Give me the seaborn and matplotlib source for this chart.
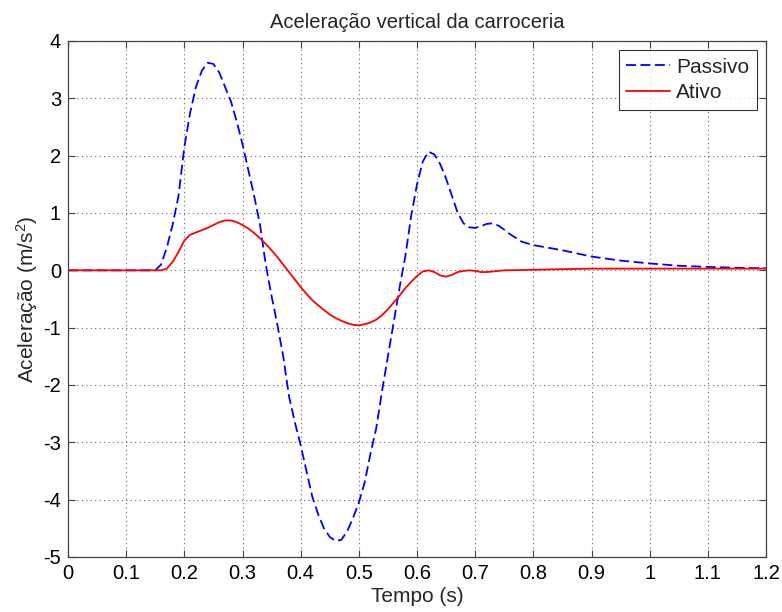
import numpy as np
import pandas as pd
import matplotlib
matplotlib.use("Agg")
import matplotlib.pyplot as plt
import seaborn as sns

# ---- data ----
t_passivo = [0.0, 0.15, 0.16, 0.17, 0.18, 0.19, 0.20, 0.21, 0.22, 0.23, 0.24, 0.25,
             0.26, 0.27, 0.28, 0.29, 0.30, 0.31, 0.32, 0.33, 0.34, 0.35, 0.36, 0.37,
             0.38, 0.39, 0.40, 0.41, 0.42, 0.43, 0.44, 0.45, 0.46, 0.47, 0.48, 0.49,
             0.50, 0.51, 0.52, 0.53, 0.54, 0.55, 0.56, 0.57, 0.58, 0.59, 0.60, 0.61,
             0.62, 0.63, 0.64, 0.65, 0.66, 0.67, 0.68, 0.69, 0.70, 0.71, 0.72, 0.73,
             0.74, 0.75, 0.76, 0.78, 0.80, 0.85, 0.90, 0.95, 1.00, 1.05, 1.10, 1.15, 1.20]
a_passivo = [0.0, 0.0, 0.1, 0.4, 0.8, 1.3, 2.15, 2.75, 3.2, 3.48, 3.62, 3.6,
             3.45, 3.2, 2.95, 2.6, 2.2, 1.75, 1.3, 0.8, 0.1, -0.45, -0.95, -1.5,
             -2.2, -2.65, -3.05, -3.5, -3.95, -4.25, -4.5, -4.65, -4.72, -4.7, -4.55, -4.32,
             -4.05, -3.7, -3.2, -2.75, -2.1, -1.5, -0.9, -0.3, 0.25, 0.95, 1.5, 1.9,
             2.07, 2.02, 1.85, 1.6, 1.3, 1.0, 0.82, 0.75, 0.74, 0.77, 0.81, 0.82,
             0.78, 0.71, 0.63, 0.5, 0.44, 0.35, 0.24, 0.17, 0.12, 0.08, 0.06, 0.045, 0.035]

t_ativo = [0.0, 0.16, 0.17, 0.18, 0.19, 0.20, 0.21, 0.22, 0.23, 0.24, 0.25, 0.26,
           0.27, 0.28, 0.29, 0.30, 0.31, 0.32, 0.33, 0.34, 0.35, 0.36, 0.37, 0.38,
           0.39, 0.40, 0.41, 0.42, 0.43, 0.44, 0.45, 0.46, 0.47, 0.48, 0.49, 0.50,
           0.51, 0.52, 0.53, 0.54, 0.55, 0.56, 0.57, 0.58, 0.59, 0.60, 0.61, 0.62,
           0.63, 0.64, 0.65, 0.66, 0.67, 0.68, 0.69, 0.70, 0.71, 0.72, 0.73, 0.75,
           0.80, 0.90, 1.00, 1.10, 1.20]
a_ativo = [0.0, 0.0, 0.03, 0.15, 0.32, 0.52, 0.62, 0.66, 0.7, 0.74, 0.79, 0.84,
           0.87, 0.87, 0.84, 0.79, 0.73, 0.65, 0.56, 0.46, 0.35, 0.23, 0.1, -0.03,
           -0.16, -0.29, -0.41, -0.52, -0.61, -0.69, -0.77, -0.83, -0.88, -0.92, -0.95, -0.96,
           -0.94, -0.91, -0.86, -0.78, -0.68, -0.56, -0.44, -0.31, -0.2, -0.1, -0.02, 0.0,
           -0.03, -0.09, -0.11, -0.08, -0.03, -0.01, 0.0, -0.01, -0.03, -0.03, -0.02, 0.0,
           0.01, 0.03, 0.03, 0.03, 0.03]

x_ticks = [0, 0.1, 0.2, 0.3, 0.4, 0.5, 0.6, 0.7, 0.8, 0.9, 1, 1.1, 1.2]
x_ticklabels = ["0", "0.1", "0.2", "0.3", "0.4", "0.5", "0.6", "0.7", "0.8", "0.9", "1", "1.1", "1.2"]
y_ticks = [-5, -4, -3, -2, -1, 0, 1, 2, 3, 4]
y_ticklabels = ["-5", "-4", "-3", "-2", "-1", "0", "1", "2", "3", "4"]

title = "Aceleração vertical da carroceria"
xlabel = "Tempo (s)"
ylabel = r"Aceleração (m/s$^{2}$)"

# ---- style ----
sns.set_style("white")
plt.rcParams["font.family"] = ["Liberation Sans", "DejaVu Sans"]
plt.rcParams["mathtext.fontset"] = "custom"
plt.rcParams["mathtext.rm"] = "Liberation Sans"
plt.rcParams["mathtext.it"] = "Liberation Sans:italic"

fig = plt.figure(figsize=(7.82, 6.12), dpi=100)
ax = fig.add_axes([68 / 782, 55 / 612, 698 / 782, 516 / 612])

sns.lineplot(x=t_passivo, y=a_passivo, ax=ax, color="#0000ff", linewidth=1.3,
             linestyle=(0, (5.5, 2.5)), estimator=None, sort=False, label="Passivo")
sns.lineplot(x=t_ativo, y=a_ativo, ax=ax, color="#ff0000", linewidth=1.3,
             estimator=None, sort=False, label="Ativo")

ax.set_xlim(0, 1.2)
ax.set_ylim(-5, 4)
ax.set_xticks(x_ticks)
ax.set_xticklabels(x_ticklabels)
ax.set_yticks(y_ticks)
ax.set_yticklabels(y_ticklabels)

ax.grid(True, linestyle=(0, (1, 3)), color="#666666", linewidth=0.8)
ax.tick_params(direction="in", length=5, width=0.8, colors="#444444",
               labelcolor="black", labelsize=14.5, top=True, right=True,
               bottom=True, left=True, pad=5)
for s in ax.spines.values():
    s.set_color("#444444")
    s.set_linewidth(0.9)

ax.set_title(title, fontsize=14.5, pad=9)
ax.set_xlabel(xlabel, fontsize=15, labelpad=3)
ax.set_ylabel(ylabel, fontsize=15, labelpad=2)

leg = ax.legend(loc="upper right", fontsize=15, frameon=True, fancybox=False,
                edgecolor="black", handlelength=2.1, borderpad=0.35,
                labelspacing=0.32, borderaxespad=0.45, handletextpad=0.3)
leg.get_frame().set_linewidth(0.8)

fig.savefig("out.png", dpi=100)
